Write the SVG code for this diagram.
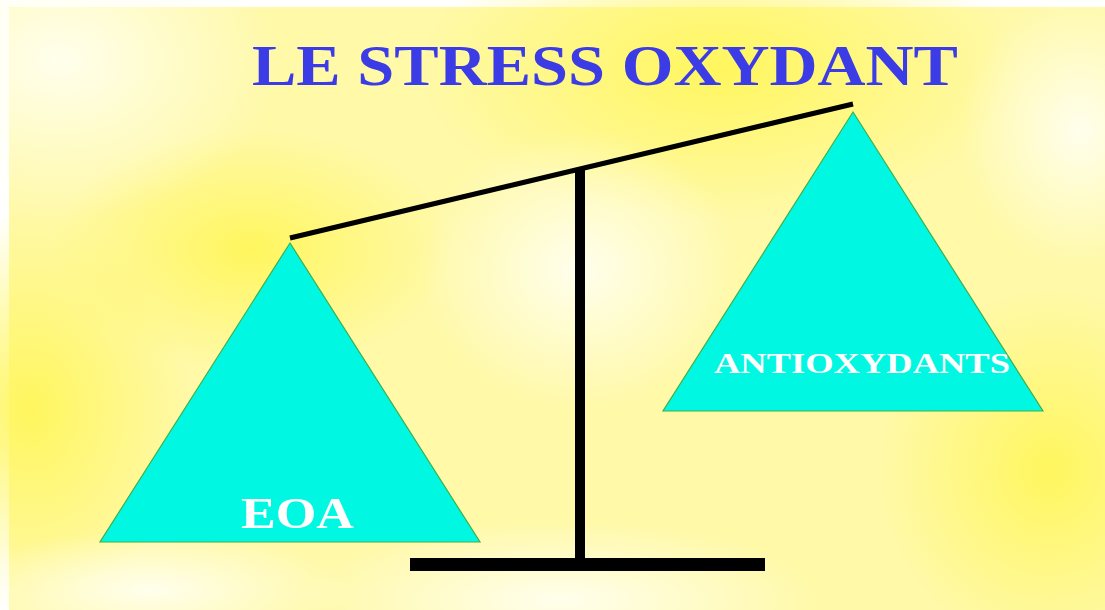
<svg xmlns="http://www.w3.org/2000/svg" width="1105" height="610" viewBox="0 0 1105 610">
  <style>
    .tri { fill: #00F8E2; stroke: #3CB04A; stroke-width: 1.2; }
    .lbl { font-family: "Liberation Serif", "Times New Roman", serif; font-weight: bold; fill: #FFFFFF; }
    .title { font-family: "Liberation Serif", "Times New Roman", serif; font-weight: bold; fill: #3C3CE6; }
    .bar { fill: #000000; }
  </style>
  <defs>
    <radialGradient id="y1" cx="0.5" cy="0.5" r="0.5">
      <stop offset="0" stop-color="#FFF65A" stop-opacity="0.95"/>
      <stop offset="1" stop-color="#FFF65A" stop-opacity="0"/>
    </radialGradient>
    <radialGradient id="w1" cx="0.5" cy="0.5" r="0.5">
      <stop offset="0" stop-color="#FFFFF0" stop-opacity="0.95"/>
      <stop offset="1" stop-color="#FFFFF0" stop-opacity="0"/>
    </radialGradient>
  </defs>
  <rect x="0" y="0" width="1105" height="610" fill="#FFFFFF"/>
  <g id="background">
    <rect x="9" y="7" width="1096" height="603" fill="#FFF9A8"/>
    <ellipse cx="720" cy="70" rx="300" ry="150" fill="url(#y1)"/>
    <ellipse cx="30" cy="410" rx="160" ry="200" fill="url(#y1)"/>
    <ellipse cx="1050" cy="470" rx="170" ry="180" fill="url(#y1)"/>
    <ellipse cx="250" cy="250" rx="200" ry="120" fill="url(#y1)"/>
    <ellipse cx="60" cy="60" rx="220" ry="160" fill="url(#w1)"/>
    <ellipse cx="580" cy="270" rx="160" ry="140" fill="url(#w1)"/>
    <ellipse cx="560" cy="600" rx="260" ry="80" fill="url(#w1)"/>
    <ellipse cx="150" cy="590" rx="200" ry="60" fill="url(#w1)"/>
    <ellipse cx="1080" cy="130" rx="120" ry="140" fill="url(#w1)"/>
  </g>
  <g id="title">
    <text class="title" x="252" y="85" font-size="58" textLength="706" lengthAdjust="spacingAndGlyphs">LE STRESS OXYDANT</text>
  </g>
  <g id="connectors">
    <line x1="290" y1="238" x2="853" y2="104" stroke="#000" stroke-width="5" stroke-linecap="butt"/>
    <rect class="bar" x="575" y="170" width="10" height="392"/>
    <rect class="bar" x="410" y="558" width="355" height="13"/>
  </g>
  <g id="node-eoa">
    <polygon class="tri" points="290,243 480,542 100,542"/>
    <text class="lbl" x="241" y="528" font-size="45" textLength="113" lengthAdjust="spacingAndGlyphs">EOA</text>
  </g>
  <g id="node-antioxydants">
    <polygon class="tri" points="853,112 1043,411 663,411"/>
    <text class="lbl" x="714" y="373" font-size="30" textLength="296" lengthAdjust="spacingAndGlyphs">ANTIOXYDANTS</text>
  </g>
</svg>
